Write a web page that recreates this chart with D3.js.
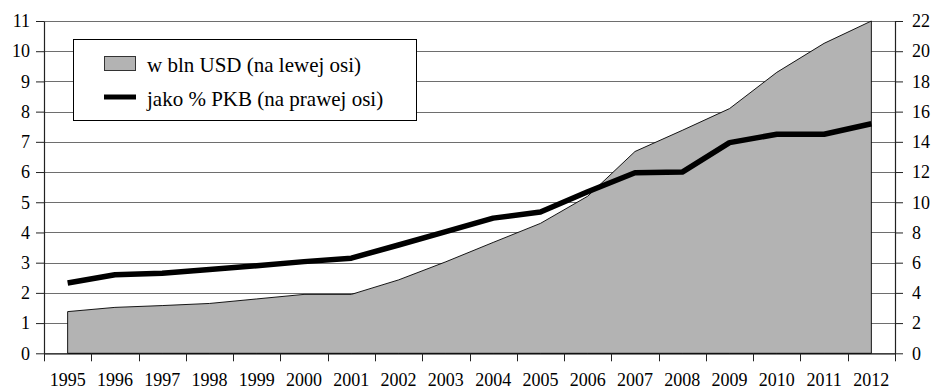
<!DOCTYPE html>
<html>
<head>
<meta charset="utf-8">
<script src="https://cdn.jsdelivr.net/npm/d3@7"></script>
<style>
  html, body { margin: 0; padding: 0; background: #fff; }
  svg { display: block; }
  svg text { font-family: "Liberation Serif", "Times New Roman", Tinos, serif !important; }
</style>
</head>
<body>
<svg id="chart" width="933" height="389"></svg>
<script>
// Years on the category axis
const years = ["1995","1996","1997","1998","1999","2000","2001","2002","2003",
               "2004","2005","2006","2007","2008","2009","2010","2011","2012"];
// w bln USD (left axis)
const valuesUSD = [1.38, 1.52, 1.58, 1.65, 1.8, 1.95, 1.95, 2.43, 3.03,
                   3.67, 4.3, 5.2, 6.68, 7.38, 8.1, 9.3, 10.26, 11.0];
// jako % PKB (right axis)
const valuesPKB = [4.65, 5.2, 5.3, 5.55, 5.8, 6.07, 6.3, 7.17, 8.05,
                   8.95, 9.35, 10.7, 11.95, 12.0, 13.95, 14.5, 14.5, 15.2];
const leftTicks = [0,1,2,3,4,5,6,7,8,9,10,11];
const rightTicks = [0,2,4,6,8,10,12,14,16,18,20,22];
const legendLabels = ["w bln USD (na lewej osi)", "jako % PKB (na prawej osi)"];

const svg = d3.select("#chart");
const plotL = 44, plotR = 895, plotT = 21, plotB = 353.3;

const x = d3.scaleBand().domain(years).range([plotL, plotR]).padding(0);
const yL = d3.scaleLinear().domain([0, 11]).range([plotB, plotT]);
const yR = d3.scaleLinear().domain([0, 22]).range([plotB, plotT]);
const cx = d => x(d) + x.bandwidth() / 2;

// horizontal gridlines
svg.append("g").selectAll("line").data(leftTicks.filter(t => t > 0)).join("line")
  .attr("x1", plotL).attr("x2", plotR)
  .attr("y1", d => Math.round(yL(d)) + 0.5).attr("y2", d => Math.round(yL(d)) + 0.5)
  .attr("stroke", "#6e6e6e").attr("stroke-width", 1);

// area series
const area = d3.area()
  .x((d, i) => cx(years[i]))
  .y0(yL(0))
  .y1(d => yL(d));
svg.append("path").datum(valuesUSD)
  .attr("d", area)
  .attr("fill", "#b3b3b3")
  .attr("stroke", "#000").attr("stroke-width", 0.9);

// line series
const line = d3.line()
  .x((d, i) => cx(years[i]))
  .y(d => yR(d));
svg.append("path").datum(valuesPKB)
  .attr("d", line)
  .attr("fill", "none")
  .attr("stroke", "#000").attr("stroke-width", 5.5)
  .attr("stroke-linejoin", "round");

// left axis
const axL = svg.append("g").attr("transform", `translate(${plotL},0)`)
  .call(d3.axisLeft(yL).tickValues(leftTicks).tickSize(8).tickSizeOuter(0).tickPadding(6));
// right axis
const axR = svg.append("g").attr("transform", `translate(${plotR},0)`)
  .call(d3.axisRight(yR).tickValues(rightTicks).tickSize(8).tickSizeOuter(0).tickPadding(9));

// bottom axis: labels centered in bands, ticks at band boundaries
const axB = svg.append("g").attr("transform", `translate(0,${plotB})`)
  .call(d3.axisBottom(x).tickSize(0).tickSizeOuter(0).tickPadding(20));
const bounds = years.map(d => x(d)).concat([plotR]);
svg.append("g").selectAll("line").data(bounds).join("line")
  .attr("x1", d => Math.round(d) + 0.5).attr("x2", d => Math.round(d) + 0.5)
  .attr("y1", plotB).attr("y2", plotB + 8)
  .attr("stroke", "#222").attr("stroke-width", 1);

[axL, axR, axB].forEach(g => {
  g.attr("font-family", "Liberation Serif").attr("font-size", 18);
  g.selectAll(".domain").attr("stroke", "#222").attr("stroke-width", 1.2);
  g.selectAll(".tick line").attr("stroke", "#222");
  g.selectAll("text").attr("fill", "#000");
});
axB.select(".domain").attr("stroke", "#000");

// legend
const lg = svg.append("g").attr("font-family", "Liberation Serif").attr("font-size", 21);
lg.append("rect").attr("x", 73.5).attr("y", 39.5).attr("width", 343).attr("height", 81)
  .attr("fill", "#fff").attr("stroke", "#000").attr("stroke-width", 1);
lg.append("rect").attr("x", 104.5).attr("y", 56.5).attr("width", 31).attr("height", 14)
  .attr("fill", "#b3b3b3").attr("stroke", "#333").attr("stroke-width", 1);
lg.append("line").attr("x1", 104).attr("x2", 136).attr("y1", 97).attr("y2", 97)
  .attr("stroke", "#000").attr("stroke-width", 5);
lg.selectAll("text").data(legendLabels).join("text")
  .attr("x", 147).attr("y", (d, i) => i === 0 ? 72 : 106)
  .attr("fill", "#000")
  .text(d => d);
</script>
</body>
</html>
